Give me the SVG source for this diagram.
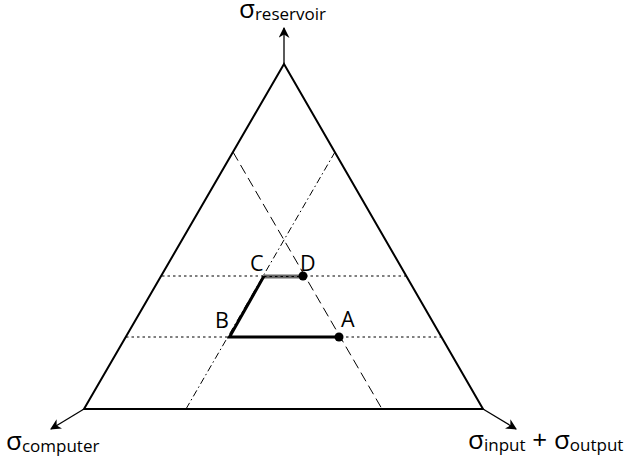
<svg xmlns="http://www.w3.org/2000/svg" width="629" height="461" viewBox="0 0 629 461">
<style>
.tri{fill:none;stroke:#000;stroke-width:2;stroke-linejoin:miter}
.ax{stroke:#000;stroke-width:1.3;fill:none}
.dot{stroke:#000;stroke-width:1;stroke-dasharray:2.5 3;fill:none}
.dash{stroke:#000;stroke-width:1;stroke-dasharray:10 5;fill:none}
.dd{stroke:#000;stroke-width:1;stroke-dasharray:7 3 1.5 3;fill:none}
.thick{stroke:#000;stroke-width:3;fill:none;stroke-linejoin:miter}
.lbl{font-family:"Open Sans",sans-serif;font-size:21.5px;fill:#000}
.sig{font-family:"Open Sans",sans-serif;font-size:26px;fill:#000}
.sub{font-family:"Open Sans",sans-serif;font-size:17px}
</style>
<defs>
<marker id="ah" viewBox="0 0 10 10" refX="9" refY="5" markerWidth="11" markerHeight="11" markerUnits="userSpaceOnUse" orient="auto">
<path d="M0,0 L10,5 L0,10 L3,5 Z" fill="#000"/>
</marker>
</defs>
<g id="connectors">
<line class="ax" x1="284" y1="64" x2="284" y2="28" marker-end="url(#ah)"/>
<line class="ax" x1="84" y1="409" x2="51" y2="429" marker-end="url(#ah)"/>
<line class="ax" x1="483" y1="409" x2="516" y2="429" marker-end="url(#ah)"/>
<line class="dot" x1="162" y1="276" x2="406" y2="276"/>
<line class="dot" x1="126" y1="337" x2="441" y2="337"/>
<line class="dash" x1="233" y1="152" x2="382" y2="409"/>
<line class="dd" x1="335" y1="152" x2="186" y2="409"/>
</g>
<g id="triangle">
<path class="tri" d="M284,64 L483,409 L84,409 Z"/>
</g>
<g id="region">
<line x1="264" y1="276.5" x2="303" y2="276.5" stroke="#666" stroke-width="4"/>
<line class="dot" x1="264" y1="276.5" x2="303" y2="276.5" stroke="#333"/>
<path class="thick" d="M264,276 L229.5,337 L339,337"/>
</g>
<g id="A"><circle cx="339" cy="337" r="4.5"/><text class="lbl" x="341" y="327">A</text></g>
<g id="B"><text class="lbl" x="215" y="328">B</text></g>
<g id="C"><text class="lbl" x="250" y="271">C</text></g>
<g id="D"><circle cx="303" cy="276" r="4.5"/><text class="lbl" x="300" y="271">D</text></g>
<g id="label-reservoir"><text class="sig" x="239" y="18">σ<tspan class="sub" dy="2">reservoir</tspan></text></g>
<g id="label-computer"><text class="sig" x="6" y="450">σ<tspan class="sub" dy="2">computer</tspan></text></g>
<g id="label-io"><text class="sig" x="468" y="449">σ<tspan class="sub" dy="2">input</tspan><tspan dy="-2"> + σ</tspan><tspan class="sub" dy="2">output</tspan></text></g>
</svg>
